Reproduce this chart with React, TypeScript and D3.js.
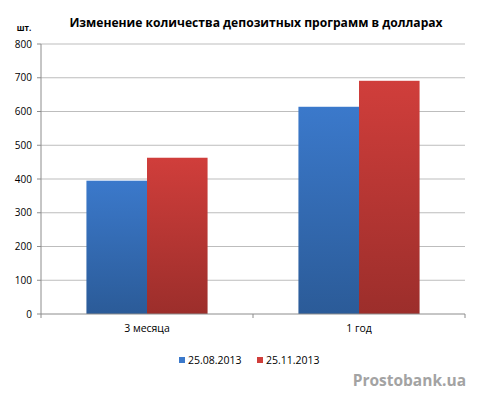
import * as d3 from 'd3';
import React from 'react';

const categories = ['3 месяца', '1 год'];
const seriesNames = ['25.08.2013', '25.11.2013'];
const values = [
  [395, 614],
  [463, 691],
];
const yTicks = [0, 100, 200, 300, 400, 500, 600, 700, 800];

const colors = [
  { top: '#3b79cb', bottom: '#2b5b98' },
  { top: '#d03e3b', bottom: '#9c2e2b' },
];

export default function App() {
  const width = 480;
  const height = 397;
  const left = 41;
  const right = 465;
  const top = 44;
  const bottom = 314;
  const font = 'Open Sans, Calibri, sans-serif';

  const yScale = d3.scaleLinear().domain([0, 800]).range([bottom, top]);
  const xScale = d3.scaleBand<string>().domain(categories).range([left, right]);
  // Excel gap width 150%: band = 2 bars + 1.5 bar gap
  const barW = xScale.bandwidth() / 3.5;

  return (
    <svg
      width={width}
      height={height}
      style={{ position: 'absolute', left: 0, top: 0, background: '#fff' }}
      fontFamily={font}
    >
      <defs>
        {colors.map((c, i) => (
          <linearGradient key={i} id={`grad${i}`} x1="0" y1="0" x2="0" y2="1">
            <stop offset="0%" stopColor={c.top} />
            <stop offset="100%" stopColor={c.bottom} />
          </linearGradient>
        ))}
      </defs>

      <text x={256} y={27} textAnchor="middle" fontSize={12.1} fontWeight="bold" fill="#000">
        Изменение количества депозитных программ в долларах
      </text>
      <text x={24} y={31} textAnchor="middle" fontSize={8} fontWeight="bold" fill="#000">
        шт.
      </text>

      {yTicks.map(t => (
        <g key={t}>
          {t > 0 && (
            <line x1={left} x2={right} y1={yScale(t)} y2={yScale(t)} stroke="#bdbdbd" strokeWidth={1} />
          )}
          <line x1={left - 4} x2={left} y1={yScale(t)} y2={yScale(t)} stroke="#8c8c8c" />
          <text x={32} y={yScale(t) + 3.5} textAnchor="end" fontSize={10} fill="#000">
            {t}
          </text>
        </g>
      ))}

      {categories.map((c, ci) => {
        const x0 = (xScale(c) ?? 0) + (xScale.bandwidth() - 2 * barW) / 2;
        return (
          <g key={c}>
            {seriesNames.map((s, si) => (
              <rect
                key={s}
                x={x0 + si * barW}
                y={yScale(values[si][ci])}
                width={barW}
                height={bottom - yScale(values[si][ci])}
                fill={`url(#grad${si})`}
              />
            ))}
            <text
              x={(xScale(c) ?? 0) + xScale.bandwidth() / 2}
              y={332}
              textAnchor="middle"
              fontSize={10.5}
              fill="#000"
            >
              {c}
            </text>
          </g>
        );
      })}

      <line x1={left} x2={left} y1={top} y2={bottom} stroke="#8c8c8c" />
      <line x1={left} x2={right} y1={bottom} y2={bottom} stroke="#8c8c8c" />
      {[left, ...categories.map(c => (xScale(c) ?? 0) + xScale.bandwidth())].map((x, i) => (
        <line key={i} x1={x} x2={x} y1={bottom} y2={bottom + 4} stroke="#8c8c8c" />
      ))}

      {seriesNames.map((s, i) => (
        <g key={s} transform={`translate(${179 + i * 78},0)`}>
          <rect x={0} y={357} width={6} height={6} fill={colors[i].top} />
          <text x={9} y={364} fontSize={10.5} fill="#000">
            {s}
          </text>
        </g>
      ))}

      <text x={466} y={386} textAnchor="end" fontSize={15.5} fontWeight="bold" fill="#a3a3a3">
        Prostobank.ua
      </text>
    </svg>
  );
}
